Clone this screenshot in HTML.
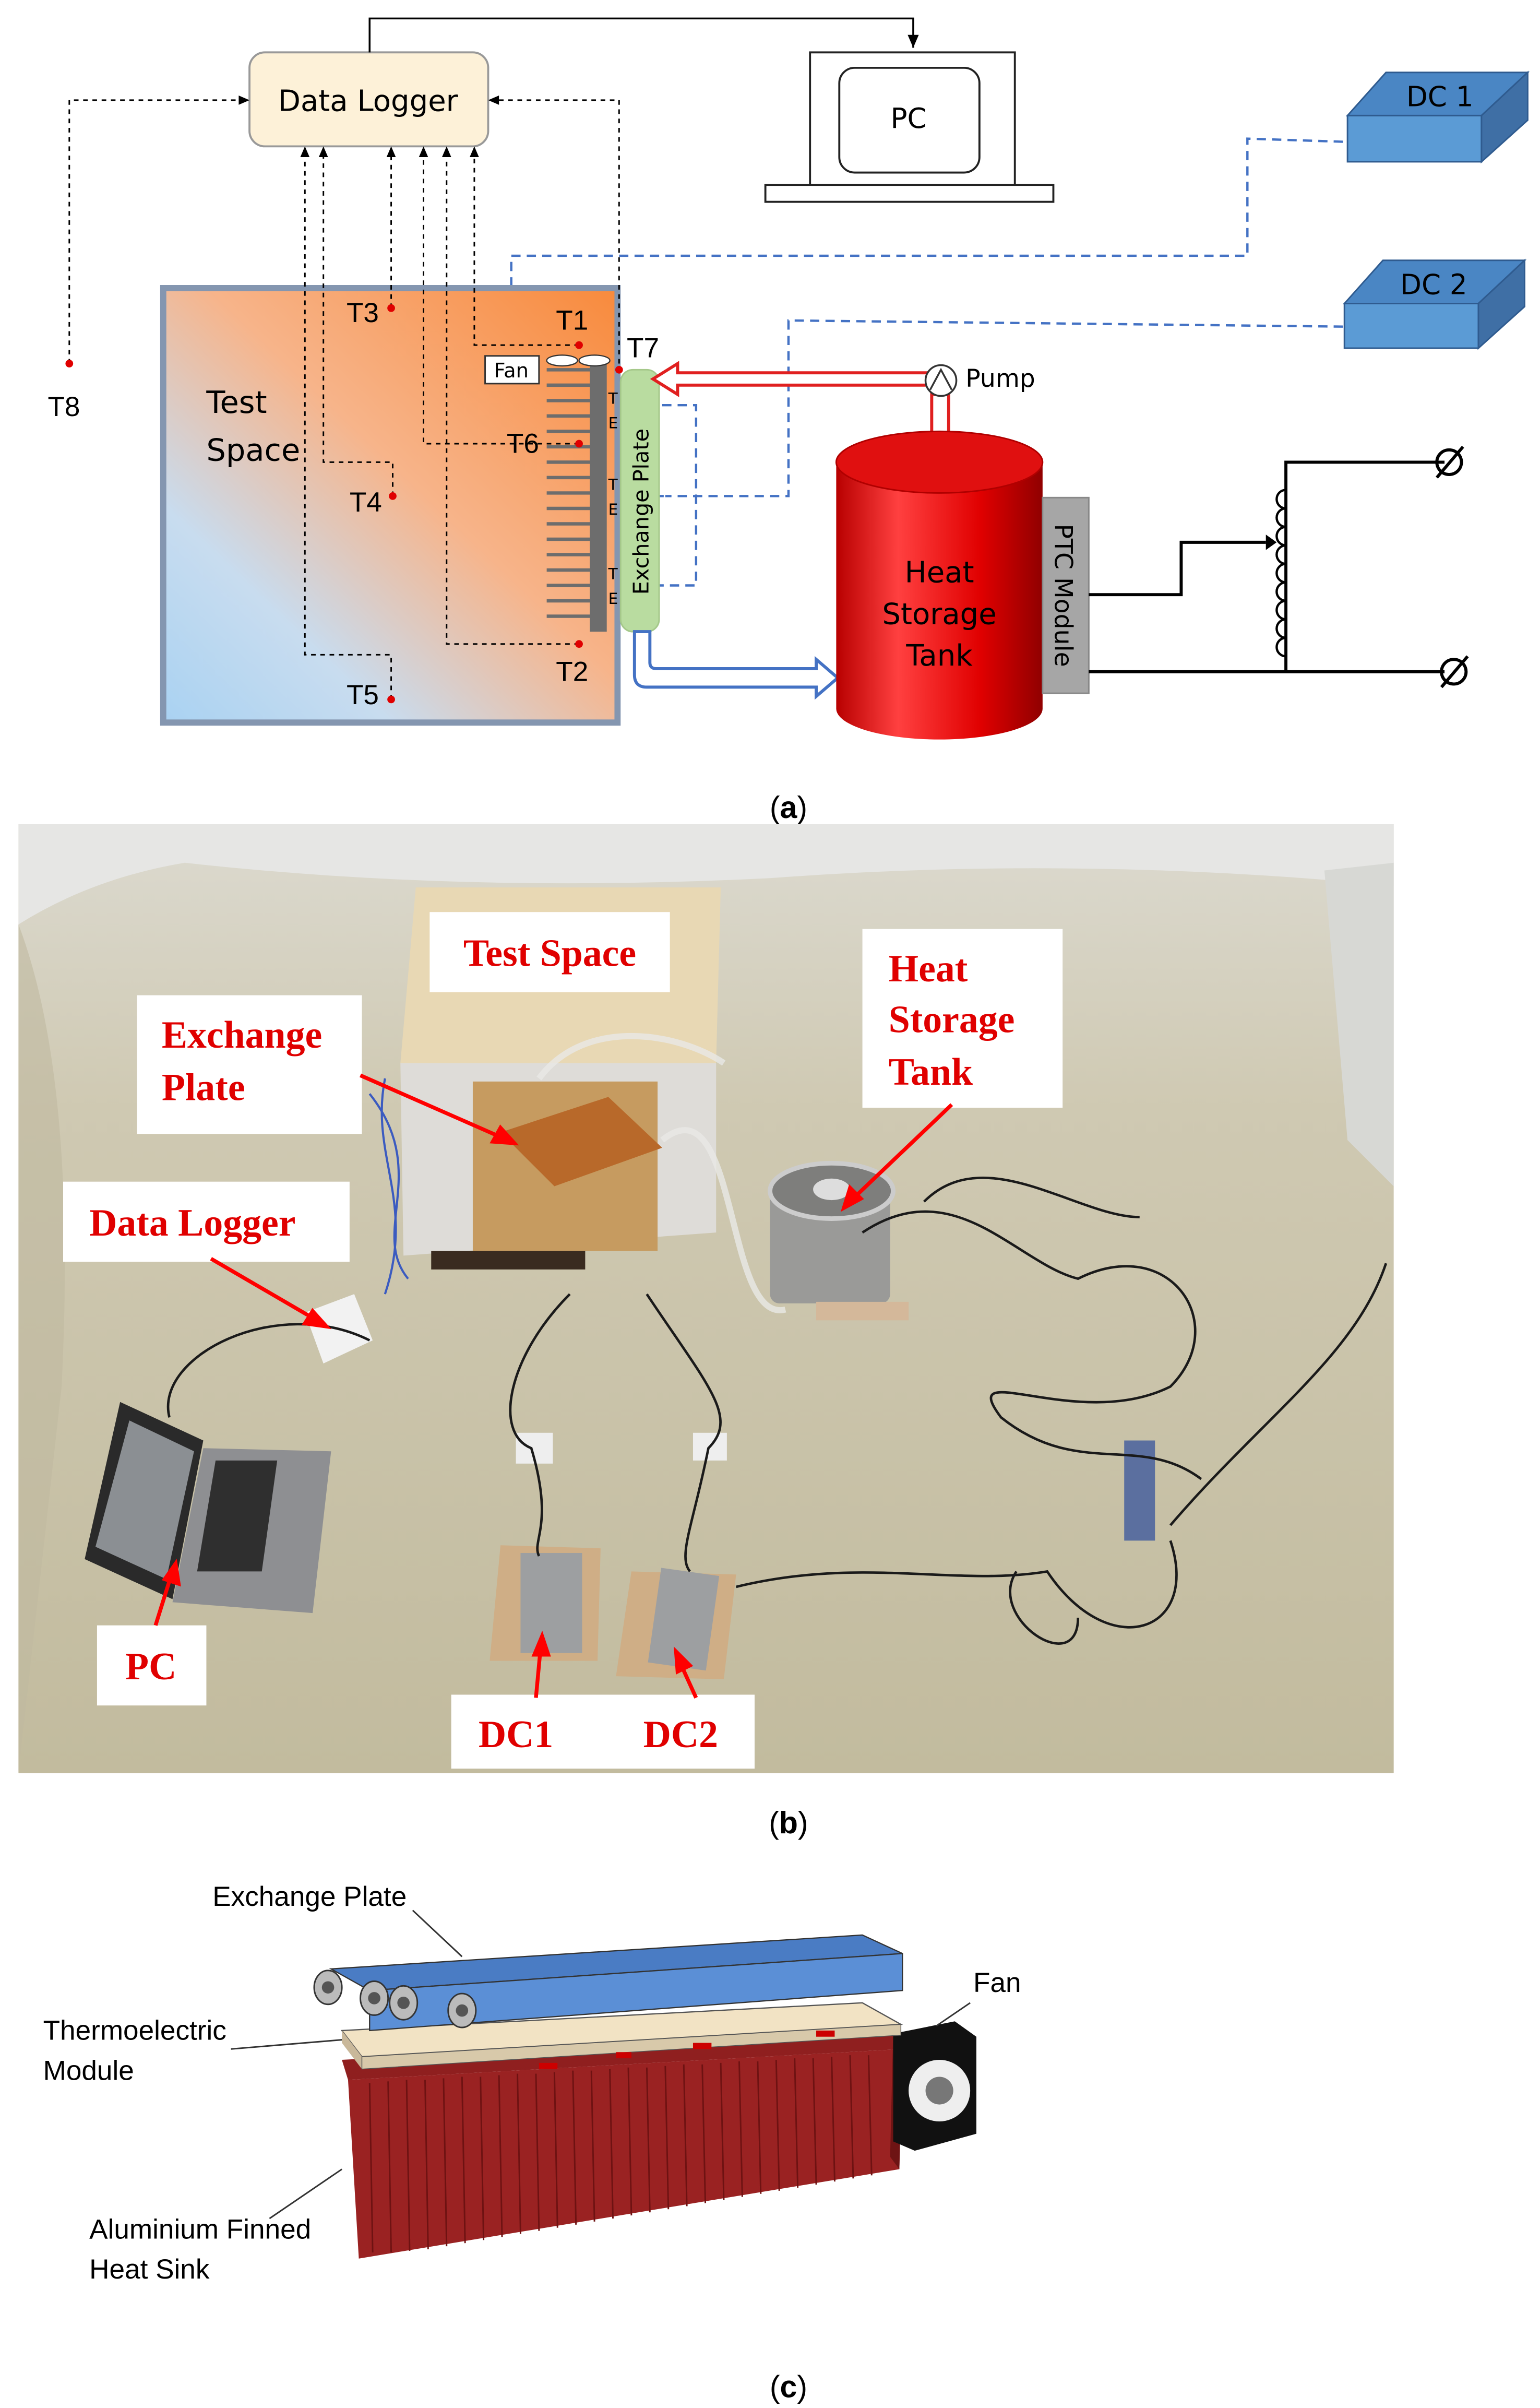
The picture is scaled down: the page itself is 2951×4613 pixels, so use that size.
<!DOCTYPE html>
<html><head><meta charset="utf-8"><style>
html,body{margin:0;padding:0;background:#fff}
svg{display:block}
text{font-family:"Liberation Sans","DejaVu Sans",sans-serif}
.s{font-family:"DejaVu Sans","Liberation Sans",sans-serif}
.r{font-family:"Liberation Serif",serif;font-weight:bold;fill:#e00000}
</style></head><body>
<svg width="2951" height="4613" viewBox="0 0 1000 1563" preserveAspectRatio="none" xmlns="http://www.w3.org/2000/svg">
<defs>
<linearGradient id="ts" x1="1" y1="0" x2="0" y2="1">
<stop offset="0" stop-color="#f88a3c"/><stop offset="0.45" stop-color="#f7b48a"/><stop offset="0.75" stop-color="#c8dcef"/><stop offset="1" stop-color="#a9d2f2"/></linearGradient>
<linearGradient id="tank" x1="0" y1="0" x2="1" y2="0">
<stop offset="0" stop-color="#b80000"/><stop offset="0.3" stop-color="#ff4040"/><stop offset="0.7" stop-color="#e00000"/><stop offset="1" stop-color="#900000"/></linearGradient>
<linearGradient id="cloth" x1="0" y1="0" x2="0" y2="1">
<stop offset="0" stop-color="#dcdad0"/><stop offset="0.3" stop-color="#cfc9b2"/><stop offset="1" stop-color="#c2bb9e"/></linearGradient>
<marker id="ar" markerWidth="8" markerHeight="8" refX="7" refY="4" orient="auto"><path d="M0,1 L7,4 L0,7z" fill="#000"/></marker>
</defs>

<!-- ===== (a) ===== -->
<rect x="162" y="34" width="155" height="61" rx="10" fill="#fdf1d8" stroke="#999" stroke-width="1.3"/>
<text x="239" y="72" font-size="19" text-anchor="middle" class="s">Data Logger</text>
<polyline points="240,34 240,12 593,12 593,31" fill="none" stroke="#000" stroke-width="1.2" marker-end="url(#ar)"/>
<rect x="526" y="34" width="133" height="86" fill="#fff" stroke="#222" stroke-width="1.3"/>
<rect x="545" y="44" width="91" height="68" rx="10" fill="#fff" stroke="#222" stroke-width="1.3"/>
<text x="590" y="83" font-size="18" text-anchor="middle" class="s">PC</text>
<rect x="497" y="120" width="187" height="11" fill="#fff" stroke="#222" stroke-width="1.3"/>
<g stroke="#2f5b8f" stroke-width="1">
<rect x="875" y="75" width="87" height="30" fill="#5b9bd5"/>
<polygon points="875,75 900,47 992,47 962,75" fill="#4a86c4"/>
<polygon points="962,75 992,47 992,78 962,105" fill="#3f6fa5"/>
<rect x="873" y="197" width="87" height="29" fill="#5b9bd5"/>
<polygon points="873,197 898,169 990,169 960,197" fill="#4a86c4"/>
<polygon points="960,197 990,169 990,199 960,226" fill="#3f6fa5"/>
</g>
<text x="935" y="69" font-size="18" text-anchor="middle" class="s">DC 1</text>
<text x="931" y="191" font-size="18" text-anchor="middle" class="s">DC 2</text>
<g fill="none" stroke="#4472c4" stroke-width="1.5" stroke-dasharray="6,4">
<polyline points="872,92 810,90 810,166 332,166 332,233"/>
<polyline points="872,212 512,208 512,322 432,322"/>
<polyline points="400,263 452,263 452,380 400,380"/>
<line x1="395" y1="322" x2="435" y2="322"/>
</g>
<rect x="106" y="187" width="295" height="282" fill="url(#ts)" stroke="#8496b0" stroke-width="4"/>
<text x="134" y="268" font-size="20" class="s">Test</text>
<text x="134" y="299" font-size="20" class="s">Space</text>
<g stroke="#6d6d6d" stroke-width="2.2">
<line x1="355" y1="240" x2="384" y2="240"/><line x1="355" y1="250" x2="384" y2="250"/><line x1="355" y1="260" x2="384" y2="260"/><line x1="355" y1="270" x2="384" y2="270"/><line x1="355" y1="280" x2="384" y2="280"/><line x1="355" y1="290" x2="384" y2="290"/><line x1="355" y1="300" x2="384" y2="300"/><line x1="355" y1="310" x2="384" y2="310"/><line x1="355" y1="320" x2="384" y2="320"/><line x1="355" y1="330" x2="384" y2="330"/><line x1="355" y1="340" x2="384" y2="340"/><line x1="355" y1="350" x2="384" y2="350"/><line x1="355" y1="360" x2="384" y2="360"/><line x1="355" y1="370" x2="384" y2="370"/><line x1="355" y1="380" x2="384" y2="380"/><line x1="355" y1="390" x2="384" y2="390"/><line x1="355" y1="400" x2="384" y2="400"/>
</g>
<rect x="383" y="236" width="11" height="174" fill="#6d6d6d"/>
<text font-size="10" class="s" x="395" y="262">T</text><text font-size="10" class="s" x="395" y="278">E</text>
<text font-size="10" class="s" x="395" y="318">T</text><text font-size="10" class="s" x="395" y="334">E</text>
<text font-size="10" class="s" x="395" y="376">T</text><text font-size="10" class="s" x="395" y="392">E</text>
<rect x="315" y="231" width="35" height="18" fill="#fff" stroke="#333"/>
<text x="332" y="245" font-size="13" text-anchor="middle" class="s">Fan</text>
<ellipse cx="365" cy="234" rx="10" ry="3.5" fill="#fff" stroke="#333" stroke-width="0.8"/>
<ellipse cx="386" cy="234" rx="10" ry="3.5" fill="#fff" stroke="#333" stroke-width="0.8"/>
<rect x="403" y="240" width="25" height="170" rx="8" fill="#b9dca0" stroke="#a5c88a"/>
<text transform="translate(421,386) rotate(-90)" font-size="14" class="s">Exchange Plate</text>
<g fill="none" stroke="#000" stroke-width="1" stroke-dasharray="3,3">
<polyline points="45,236 45,65 156,65"/>
<polyline points="402,236 402,65 322,65"/>
<polyline points="254,200 254,97"/>
<polyline points="376,224 308,224 308,97"/>
<polyline points="376,288 275,288 275,97"/>
<polyline points="255,322 255,300 210,300 210,97"/>
<polyline points="376,418 290,418 290,97"/>
<polyline points="254,454 254,425 198,425 198,97"/>
</g>
<g fill="#000"><path d="M254,95 l-3,7 h6z"/><path d="M308,95 l-3,7 h6z"/><path d="M275,95 l-3,7 h6z"/><path d="M210,95 l-3,7 h6z"/><path d="M290,95 l-3,7 h6z"/><path d="M198,95 l-3,7 h6z"/>
<path d="M162,65 l-7,-3 v6z"/><path d="M317,65 l7,-3 v6z"/></g>
<g fill="#e00000"><circle cx="45" cy="236" r="2.5"/><circle cx="254" cy="200" r="2.5"/><circle cx="376" cy="224" r="2.5"/><circle cx="402" cy="240" r="2.5"/><circle cx="376" cy="288" r="2.5"/><circle cx="255" cy="322" r="2.5"/><circle cx="376" cy="418" r="2.5"/><circle cx="254" cy="454" r="2.5"/></g>
<g font-size="18" class="s">
<text x="31" y="270">T8</text><text x="225" y="209">T3</text><text x="361" y="214">T1</text><text x="407" y="232">T7</text>
<text x="329" y="294">T6</text><text x="227" y="332">T4</text><text x="361" y="442">T2</text><text x="225" y="457">T5</text></g>
<path d="M606,242 H440 V236 L424,246 L440,256 V250 H606 Z" fill="#fff" stroke="#e02020" stroke-width="2"/>
<rect x="605" y="256" width="11" height="26" fill="#fff" stroke="#e02020" stroke-width="2"/>
<circle cx="611" cy="247" r="10" fill="#fff" stroke="#333" stroke-width="1.2"/>
<path d="M604,253 L611,240 L618,253" fill="none" stroke="#333" stroke-width="1.2"/>
<text x="627" y="251" font-size="16" class="s">Pump</text>
<path d="M412,410 V438 Q412,446 420,446 H530 V452 L544,440 L530,428 V434 H426 Q422,434 422,430 V410 Z" fill="#fff" stroke="#4472c4" stroke-width="2"/>
<path d="M543,300 V460 A67,20 0 0 0 677,460 V300 Z" fill="url(#tank)"/>
<ellipse cx="610" cy="300" rx="67" ry="20" fill="#e01010" stroke="#b00000"/>
<text x="610" y="378" font-size="19" text-anchor="middle" class="s">Heat</text>
<text x="610" y="405" font-size="19" text-anchor="middle" class="s">Storage</text>
<text x="610" y="432" font-size="19" text-anchor="middle" class="s">Tank</text>
<rect x="677" y="323" width="30" height="127" fill="#a6a6a6" stroke="#888"/>
<text transform="translate(685,340) rotate(90)" font-size="16" class="s">PTC Module</text>
<g fill="none" stroke="#000" stroke-width="2">
<polyline points="707,386 767,386 767,352 822,352"/>
<line x1="707" y1="436" x2="938" y2="436"/>
<polyline points="835,436 835,300 938,300"/>
<path d="M835,318 a6,6 0 0 0 0,12 a6,6 0 0 0 0,12 a6,6 0 0 0 0,12 a6,6 0 0 0 0,12 a6,6 0 0 0 0,12 a6,6 0 0 0 0,12 a6,6 0 0 0 0,12 a6,6 0 0 0 0,12 a6,6 0 0 0 0,12" stroke-width="1.5"/>
<circle cx="941" cy="300" r="8"/><line x1="933" y1="310" x2="950" y2="290"/>
<circle cx="944" cy="436" r="8"/><line x1="936" y1="446" x2="953" y2="426"/>
</g>
<path d="M822,347 L829,352 L822,357z"/>
<text x="512" y="531" font-size="20" text-anchor="middle" font-family="Liberation Serif">(<tspan font-weight="bold">a</tspan>)</text>

<!-- ===== (b) photo ===== -->
<rect x="12" y="535" width="893" height="616" fill="url(#cloth)"/>
<path d="M12,535 H905 V575 Q700,555 500,570 Q300,580 120,560 Q60,570 12,600Z" fill="#e6e6e4"/>
<path d="M860,565 L905,560 V770 L875,740Z" fill="#d7d8d4"/>
<path d="M12,600 Q50,700 40,900 L12,1150Z" fill="#bfb9a0" opacity="0.6"/>
<polygon points="270,576 468,576 465,690 260,690" fill="#e8d8b4"/>
<polygon points="260,690 465,690 465,800 262,815" fill="#dedcd8"/>
<rect x="307" y="702" width="120" height="110" fill="#c69b60"/>
<polygon points="325,735 395,712 430,745 360,770" fill="#b8692a"/>
<rect x="280" y="812" width="100" height="12" fill="#3a2b20"/>
<rect x="500" y="766" width="78" height="80" rx="6" fill="#9a9a98"/>
<ellipse cx="540" cy="773" rx="40" ry="18" fill="#7e7e7c" stroke="#ccc" stroke-width="3"/>
<ellipse cx="540" cy="772" rx="12" ry="7" fill="#ddd"/>
<rect x="530" y="845" width="60" height="12" fill="#d4b89a"/>
<polygon points="198,852 230,840 242,870 210,885" fill="#f2f2f2"/>
<polygon points="78,910 132,935 112,1038 55,1012" fill="#2a2a2a"/>
<polygon points="84,922 126,942 108,1025 62,1004" fill="#8b8f93"/>
<polygon points="132,940 215,942 203,1047 112,1040" fill="#8e8f92"/>
<polygon points="140,948 180,948 170,1020 128,1020" fill="#2f2f2f"/>
<polygon points="325,1003 390,1005 388,1078 318,1078" fill="#cfae86"/>
<rect x="338" y="1008" width="40" height="65" fill="#9d9fa1"/>
<polygon points="410,1020 478,1022 470,1090 400,1088" fill="#cfae86"/>
<rect x="425" y="1020" width="38" height="62" fill="#9d9fa1" transform="rotate(8 444 1050)"/>
<rect x="730" y="935" width="20" height="65" fill="#5b6f9f"/>
<rect x="335" y="930" width="24" height="20" fill="#eee"/><rect x="450" y="930" width="22" height="18" fill="#eee"/>
<g fill="none" stroke="#1a1a1a" stroke-width="1.6">
<path d="M240,870 C180,840 100,880 110,920"/>
<path d="M370,840 C330,880 320,930 345,940 C360,990 345,1000 350,1010"/>
<path d="M420,840 C460,900 480,920 460,940 C450,990 440,1010 448,1020"/>
<path d="M478,1030 C560,1010 620,1030 680,1020 C720,1080 780,1060 760,1000"/>
<path d="M560,800 C620,760 660,820 700,830 C760,800 800,860 760,900 C700,930 620,880 650,920 C700,960 740,930 780,960"/>
<path d="M760,990 C820,920 880,880 900,820"/>
<path d="M600,780 C640,740 700,790 740,790"/>
<path d="M660,1020 C640,1050 700,1090 700,1050"/>
</g>
<g fill="none" stroke="#3b5bc0" stroke-width="1.4"><path d="M250,700 C240,750 270,780 250,840"/><path d="M240,710 C280,760 240,800 265,830"/></g>
<g fill="none" stroke="#e8e8e6" stroke-width="4" opacity="0.8"><path d="M430,740 C480,700 470,860 510,850"/><path d="M350,700 C380,660 440,670 470,690"/></g>
<rect x="279" y="592" width="156" height="52" fill="#fff"/><text x="357" y="627" font-size="25" text-anchor="middle" class="r">Test Space</text>
<rect x="89" y="646" width="146" height="90" fill="#fff"/><text x="105" y="680" font-size="25" class="r">Exchange</text><text x="105" y="714" font-size="25" class="r">Plate</text>
<rect x="560" y="603" width="130" height="116" fill="#fff"/><text x="577" y="637" font-size="25" class="r">Heat</text><text x="577" y="670" font-size="25" class="r">Storage</text><text x="577" y="704" font-size="25" class="r">Tank</text>
<rect x="41" y="767" width="186" height="52" fill="#fff"/><text x="58" y="802" font-size="25" class="r">Data Logger</text>
<rect x="63" y="1055" width="71" height="52" fill="#fff"/><text x="98" y="1090" font-size="25" text-anchor="middle" class="r">PC</text>
<rect x="293" y="1100" width="197" height="48" fill="#fff"/><text x="335" y="1134" font-size="25" text-anchor="middle" class="r">DC1</text><text x="442" y="1134" font-size="25" text-anchor="middle" class="r">DC2</text>
<g stroke="#ff0000" stroke-width="2.5" fill="#ff0000">
<line x1="234" y1="698" x2="325" y2="738"/><path d="M334,742 l-14,-1 l5,-9z"/>
<line x1="137" y1="817" x2="204" y2="856"/><path d="M212,861 l-14,-2 l5,-8z"/>
<line x1="618" y1="717" x2="555" y2="777"/><path d="M548,784 l4,-13 l7,7z"/>
<line x1="101" y1="1055" x2="111" y2="1023"/><path d="M114,1015 l2,13 l-9,-3z"/>
<line x1="348" y1="1102" x2="351" y2="1070"/><path d="M352,1062 l4,12 l-9,0z"/>
<line x1="452" y1="1102" x2="442" y2="1080"/><path d="M439,1072 l9,9 l-8,4z"/>
</g>
<text x="512" y="1190" font-size="20" text-anchor="middle" font-family="Liberation Serif">(<tspan font-weight="bold">b</tspan>)</text>

<!-- ===== (c) ===== -->
<polygon points="222,1337 580,1318 586,1330 226,1350" fill="#8f1f1f"/>
<polygon points="226,1350 586,1330 584,1408 233,1466" fill="#9a2222"/>
<g stroke="#6e1212" stroke-width="1">
<line x1="240" y1="1352" x2="242" y2="1462"/><line x1="252" y1="1351" x2="254" y2="1462"/><line x1="264" y1="1350" x2="266" y2="1461"/><line x1="276" y1="1350" x2="278" y2="1460"/><line x1="288" y1="1349" x2="290" y2="1458"/><line x1="300" y1="1348" x2="302" y2="1456"/><line x1="312" y1="1348" x2="314" y2="1454"/><line x1="324" y1="1347" x2="326" y2="1452"/>
<line x1="336" y1="1346" x2="338" y2="1450"/><line x1="348" y1="1346" x2="350" y2="1448"/><line x1="360" y1="1345" x2="362" y2="1446"/><line x1="372" y1="1344" x2="374" y2="1444"/><line x1="384" y1="1344" x2="386" y2="1442"/><line x1="396" y1="1343" x2="398" y2="1440"/><line x1="408" y1="1342" x2="410" y2="1438"/><line x1="420" y1="1342" x2="422" y2="1436"/><line x1="432" y1="1341" x2="434" y2="1434"/><line x1="444" y1="1340" x2="446" y2="1432"/><line x1="456" y1="1340" x2="458" y2="1430"/><line x1="468" y1="1339" x2="470" y2="1428"/><line x1="480" y1="1338" x2="482" y2="1426"/><line x1="492" y1="1338" x2="494" y2="1424"/><line x1="504" y1="1337" x2="506" y2="1422"/><line x1="516" y1="1336" x2="518" y2="1420"/><line x1="528" y1="1336" x2="530" y2="1418"/><line x1="540" y1="1335" x2="542" y2="1416"/><line x1="552" y1="1334" x2="554" y2="1414"/><line x1="564" y1="1334" x2="566" y2="1412"/>
</g>
<polygon points="580,1318 586,1330 584,1408 578,1400" fill="#6e1414"/>
<polygon points="580,1320 620,1312 634,1322 634,1385 594,1396 580,1390" fill="#111"/>
<circle cx="610" cy="1357" r="20" fill="#eee"/><circle cx="610" cy="1357" r="9" fill="#777"/>
<polygon points="222,1318 560,1300 585,1314 235,1335" fill="#f2e3c4" stroke="#555" stroke-width="0.8"/>
<polygon points="222,1318 235,1335 235,1343 222,1326" fill="#c9b89a"/>
<polygon points="235,1335 585,1314 585,1321 235,1343" fill="#d8c9aa" stroke="#555" stroke-width="0.5"/>
<g fill="#c00"><rect x="350" y="1339" width="12" height="4"/><rect x="450" y="1326" width="12" height="4"/><rect x="530" y="1318" width="12" height="4"/><rect x="400" y="1332" width="10" height="4"/></g>
<polygon points="215,1278 560,1256 586,1268 240,1292" fill="#4a7cc4" stroke="#333" stroke-width="0.8"/>
<polygon points="240,1292 586,1268 586,1292 240,1318" fill="#5b8fd6" stroke="#333" stroke-width="0.8"/>
<g fill="#bbb" stroke="#333" stroke-width="1">
<ellipse cx="213" cy="1290" rx="9" ry="11"/><ellipse cx="243" cy="1297" rx="9" ry="11"/><ellipse cx="262" cy="1300" rx="9" ry="11"/><ellipse cx="300" cy="1305" rx="9" ry="11"/></g>
<g fill="#555"><circle cx="213" cy="1290" r="4"/><circle cx="243" cy="1297" r="4"/><circle cx="262" cy="1300" r="4"/><circle cx="300" cy="1305" r="4"/></g>
<g font-size="18" class="s">
<text x="138" y="1237">Exchange Plate</text>
<text x="632" y="1293">Fan</text>
<text x="28" y="1324">Thermoelectric</text><text x="28" y="1350">Module</text>
<text x="58" y="1453">Aluminium Finned</text><text x="58" y="1479">Heat Sink</text>
</g>
<g stroke="#333" stroke-width="1"><line x1="268" y1="1240" x2="300" y2="1270"/><line x1="630" y1="1300" x2="608" y2="1315"/><line x1="150" y1="1330" x2="222" y2="1324"/><line x1="175" y1="1440" x2="222" y2="1408"/></g>
<text x="512" y="1556" font-size="20" text-anchor="middle" font-family="Liberation Serif">(<tspan font-weight="bold">c</tspan>)</text>
</svg>
</body></html>
